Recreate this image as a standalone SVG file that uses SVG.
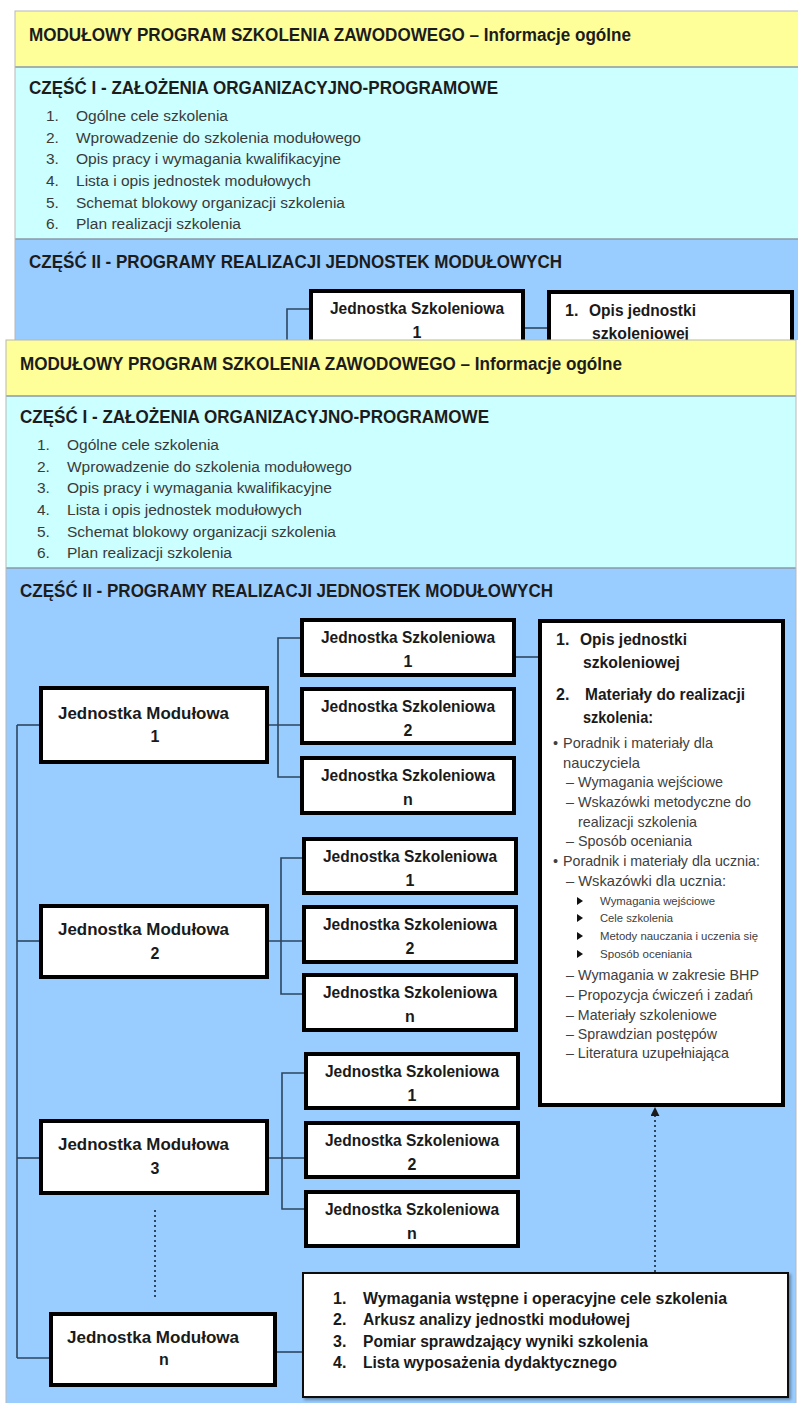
<svg xmlns="http://www.w3.org/2000/svg" xmlns:xlink="http://www.w3.org/1999/xlink" width="798" height="1403" viewBox="0 0 798 1403">
<style>
.h{font-family:"Liberation Sans",Arial,sans-serif;font-weight:bold;font-size:18px;fill:#1c1c1c;}
.li{font-family:"Liberation Sans",Arial,sans-serif;font-size:15.5px;fill:#3a3a3a;}
.bx{fill:#ffffff;stroke:#000;stroke-width:4;}
.bxt{font-family:"Liberation Sans",Arial,sans-serif;font-weight:bold;font-size:16px;fill:#1a1a1a;}
.ob{font-family:"Liberation Sans",Arial,sans-serif;font-weight:bold;font-size:16px;fill:#1a1a1a;}
.os{font-family:"Liberation Sans",Arial,sans-serif;font-size:14.5px;fill:#404040;}
.ot{font-family:"Liberation Sans",Arial,sans-serif;font-size:11px;fill:#404040;}
.c{stroke:#2c4660;stroke-width:1.6;fill:none;}
.d{stroke:#2c4660;stroke-width:2;fill:none;stroke-dasharray:2 3;}
.sep{stroke:#8a9aa8;stroke-width:1.5;}
</style>
<defs>
<clipPath id="clipTop"><rect x="0" y="0" width="798" height="340"/></clipPath>
<marker id="arr" viewBox="0 0 10 10" refX="9" refY="5" markerWidth="9" markerHeight="9" orient="auto" markerUnits="userSpaceOnUse">
<path d="M0,0 L10,5 L0,10 z" fill="#1a1a1a"/>
</marker>
<filter id="sh" x="-5%" y="-5%" width="110%" height="115%"><feDropShadow dx="2" dy="2" stdDeviation="1.5" flood-color="#000" flood-opacity="0.35"/></filter>
</defs>
<rect x="0" y="0" width="798" height="1403" fill="#ffffff"/>

<g id="top-copy" clip-path="url(#clipTop)">
<use xlink:href="#diagram" href="#diagram" transform="translate(9,-329)"/>
</g>

<g id="diagram">
<g id="bands">
<rect x="6" y="340" width="790" height="56" fill="#FFFF99"/>
<rect x="6" y="396" width="790" height="172" fill="#CCFFFF"/>
<rect x="6" y="568" width="790" height="850" fill="#99CCFF"/>
<line class="sep" x1="6" y1="396" x2="796" y2="396"/>
<line class="sep" x1="6" y1="568" x2="796" y2="568"/>
<rect x="6" y="340" width="790" height="1080" fill="none" stroke="#b8b8b8" stroke-width="1"/>
</g>

<g id="headings">
<text class="h" x="20" y="370" textLength="602" lengthAdjust="spacingAndGlyphs">MODUŁOWY PROGRAM SZKOLENIA ZAWODOWEGO – Informacje ogólne</text>
<text class="h" x="20" y="423" textLength="469" lengthAdjust="spacingAndGlyphs">CZĘŚĆ I - ZAŁOŻENIA ORGANIZACYJNO-PROGRAMOWE</text>
<text class="h" x="20" y="597" textLength="533" lengthAdjust="spacingAndGlyphs">CZĘŚĆ II - PROGRAMY REALIZACJI JEDNOSTEK MODUŁOWYCH</text>
</g>

<g id="part1-list">
<text class="li" x="37" y="450">1.</text><text class="li" x="67" y="450" textLength="152" lengthAdjust="spacingAndGlyphs">Ogólne cele szkolenia</text>
<text class="li" x="37" y="472">2.</text><text class="li" x="67" y="472" textLength="285" lengthAdjust="spacingAndGlyphs">Wprowadzenie do szkolenia modułowego</text>
<text class="li" x="37" y="493">3.</text><text class="li" x="67" y="493" textLength="265" lengthAdjust="spacingAndGlyphs">Opis pracy i wymagania kwalifikacyjne</text>
<text class="li" x="37" y="515">4.</text><text class="li" x="67" y="515" textLength="235" lengthAdjust="spacingAndGlyphs">Lista i opis jednostek modułowych</text>
<text class="li" x="37" y="537">5.</text><text class="li" x="67" y="537" textLength="269" lengthAdjust="spacingAndGlyphs">Schemat blokowy organizacji szkolenia</text>
<text class="li" x="37" y="558">6.</text><text class="li" x="67" y="558" textLength="165" lengthAdjust="spacingAndGlyphs">Plan realizacji szkolenia</text>
</g>

<g id="connectors">
<line class="c" x1="17" y1="725" x2="17" y2="1358"/>
<line class="c" x1="17" y1="725" x2="41" y2="725"/>
<line class="c" x1="17" y1="941" x2="41" y2="941"/>
<line class="c" x1="17" y1="1158" x2="41" y2="1158"/>
<line class="c" x1="17" y1="1358" x2="51" y2="1358"/>
<polyline class="c" points="302,638 278,638 278,777 302,777"/>
<line class="c" x1="267" y1="725" x2="302" y2="725"/>
<polyline class="c" points="304,858 281,858 281,994 304,994"/>
<line class="c" x1="267" y1="941" x2="304" y2="941"/>
<polyline class="c" points="306,1073 282,1073 282,1209 306,1209"/>
<line class="c" x1="267" y1="1158" x2="306" y2="1158"/>
<line class="c" x1="514" y1="657" x2="540" y2="657"/>
<line class="c" x1="275" y1="1352" x2="303" y2="1352"/>
<line class="d" x1="155" y1="1210" x2="155" y2="1298"/>
<line class="d" x1="655" y1="1272" x2="655" y2="1108" marker-end="url(#arr)"/>
</g>

<g id="jm1"><rect class="bx" x="41" y="688" width="226" height="74"/>
<text class="bxt" x="58" y="719" textLength="171" lengthAdjust="spacingAndGlyphs">Jednostka Modułowa</text><text class="bxt" x="155" y="742" text-anchor="middle">1</text></g>
<g id="jm2"><rect class="bx" x="41" y="906" width="226" height="71"/>
<text class="bxt" x="58" y="935" textLength="171" lengthAdjust="spacingAndGlyphs">Jednostka Modułowa</text><text class="bxt" x="155" y="959" text-anchor="middle">2</text></g>
<g id="jm3"><rect class="bx" x="41" y="1121" width="226" height="72"/>
<text class="bxt" x="58" y="1150" textLength="171" lengthAdjust="spacingAndGlyphs">Jednostka Modułowa</text><text class="bxt" x="155" y="1174" text-anchor="middle">3</text></g>
<g id="jmn"><rect class="bx" x="51" y="1314" width="224" height="71"/>
<text class="bxt" x="67" y="1343" textLength="172" lengthAdjust="spacingAndGlyphs">Jednostka Modułowa</text><text class="bxt" x="164" y="1365" text-anchor="middle">n</text></g>

<g id="js1-1"><rect class="bx" x="302" y="620" width="212" height="55"/>
<text class="bxt" x="408" y="643" text-anchor="middle" textLength="174" lengthAdjust="spacingAndGlyphs">Jednostka Szkoleniowa</text><text class="bxt" x="408" y="667" text-anchor="middle">1</text></g>
<g id="js1-2"><rect class="bx" x="302" y="689" width="212" height="54"/>
<text class="bxt" x="408" y="712" text-anchor="middle" textLength="174" lengthAdjust="spacingAndGlyphs">Jednostka Szkoleniowa</text><text class="bxt" x="408" y="736" text-anchor="middle">2</text></g>
<g id="js1-n"><rect class="bx" x="302" y="758" width="212" height="55"/>
<text class="bxt" x="408" y="781" text-anchor="middle" textLength="174" lengthAdjust="spacingAndGlyphs">Jednostka Szkoleniowa</text><text class="bxt" x="408" y="805" text-anchor="middle">n</text></g>

<g id="js2-1"><rect class="bx" x="304" y="839" width="212" height="54"/>
<text class="bxt" x="410" y="862" text-anchor="middle" textLength="174" lengthAdjust="spacingAndGlyphs">Jednostka Szkoleniowa</text><text class="bxt" x="410" y="886" text-anchor="middle">1</text></g>
<g id="js2-2"><rect class="bx" x="304" y="907" width="212" height="55"/>
<text class="bxt" x="410" y="930" text-anchor="middle" textLength="174" lengthAdjust="spacingAndGlyphs">Jednostka Szkoleniowa</text><text class="bxt" x="410" y="954" text-anchor="middle">2</text></g>
<g id="js2-n"><rect class="bx" x="304" y="975" width="212" height="55"/>
<text class="bxt" x="410" y="998" text-anchor="middle" textLength="174" lengthAdjust="spacingAndGlyphs">Jednostka Szkoleniowa</text><text class="bxt" x="410" y="1022" text-anchor="middle">n</text></g>

<g id="js3-1"><rect class="bx" x="306" y="1054" width="212" height="54"/>
<text class="bxt" x="412" y="1077" text-anchor="middle" textLength="174" lengthAdjust="spacingAndGlyphs">Jednostka Szkoleniowa</text><text class="bxt" x="412" y="1101" text-anchor="middle">1</text></g>
<g id="js3-2"><rect class="bx" x="306" y="1123" width="212" height="54"/>
<text class="bxt" x="412" y="1146" text-anchor="middle" textLength="174" lengthAdjust="spacingAndGlyphs">Jednostka Szkoleniowa</text><text class="bxt" x="412" y="1170" text-anchor="middle">2</text></g>
<g id="js3-n"><rect class="bx" x="306" y="1192" width="212" height="54"/>
<text class="bxt" x="412" y="1215" text-anchor="middle" textLength="174" lengthAdjust="spacingAndGlyphs">Jednostka Szkoleniowa</text><text class="bxt" x="412" y="1239" text-anchor="middle">n</text></g>

<g id="opis">
<rect class="bx" x="540" y="621" width="243" height="484"/>
<text class="ob" x="556" y="645">1.</text><text class="ob" x="580" y="645" textLength="107" lengthAdjust="spacingAndGlyphs">Opis jednostki</text>
<text class="ob" x="583" y="668" textLength="97" lengthAdjust="spacingAndGlyphs">szkoleniowej</text>
<text class="ob" x="556" y="700">2.</text><text class="ob" x="585" y="700" textLength="160" lengthAdjust="spacingAndGlyphs">Materiały do realizacji</text>
<text class="ob" x="583" y="723" textLength="70" lengthAdjust="spacingAndGlyphs">szkolenia:</text>
<text class="os" x="553" y="748">•</text><text class="os" x="563" y="748" textLength="150" lengthAdjust="spacingAndGlyphs">Poradnik i materiały dla</text>
<text class="os" x="563" y="768" textLength="77" lengthAdjust="spacingAndGlyphs">nauczyciela</text>
<text class="os" x="566" y="787" textLength="157" lengthAdjust="spacingAndGlyphs">– Wymagania wejściowe</text>
<text class="os" x="566" y="807" textLength="185" lengthAdjust="spacingAndGlyphs">– Wskazówki metodyczne do</text>
<text class="os" x="578" y="827" textLength="119" lengthAdjust="spacingAndGlyphs">realizacji szkolenia</text>
<text class="os" x="566" y="846" textLength="126" lengthAdjust="spacingAndGlyphs">– Sposób oceniania</text>
<text class="os" x="553" y="866">•</text><text class="os" x="563" y="866" textLength="197" lengthAdjust="spacingAndGlyphs">Poradnik i materiały dla ucznia:</text>
<text class="os" x="566" y="886" textLength="160" lengthAdjust="spacingAndGlyphs">– Wskazówki dla ucznia:</text>
<path d="M577,897 L583,901 L577,905 z" fill="#111"/>
<text class="ot" x="600" y="905" textLength="115" lengthAdjust="spacingAndGlyphs">Wymagania wejściowe</text>
<path d="M577,914 L583,918 L577,922 z" fill="#111"/>
<text class="ot" x="600" y="922" textLength="73" lengthAdjust="spacingAndGlyphs">Cele szkolenia</text>
<path d="M577,932 L583,936 L577,940 z" fill="#111"/>
<text class="ot" x="600" y="940" textLength="158" lengthAdjust="spacingAndGlyphs">Metody nauczania i uczenia się</text>
<path d="M577,950 L583,954 L577,958 z" fill="#111"/>
<text class="ot" x="600" y="958" textLength="92" lengthAdjust="spacingAndGlyphs">Sposób oceniania</text>
<text class="os" x="566" y="980" textLength="193" lengthAdjust="spacingAndGlyphs">– Wymagania w zakresie BHP</text>
<text class="os" x="566" y="1000" textLength="187" lengthAdjust="spacingAndGlyphs">– Propozycja ćwiczeń i zadań</text>
<text class="os" x="566" y="1020" textLength="151" lengthAdjust="spacingAndGlyphs">– Materiały szkoleniowe</text>
<text class="os" x="566" y="1039" textLength="151" lengthAdjust="spacingAndGlyphs">– Sprawdzian postępów</text>
<text class="os" x="566" y="1058" textLength="163" lengthAdjust="spacingAndGlyphs">– Literatura uzupełniająca</text>
</g>

<g id="bottom-box">
<rect x="303" y="1273" width="485" height="124" fill="#ffffff" stroke="#111" stroke-width="2" filter="url(#sh)"/>
<text class="ob" x="333" y="1304">1.</text><text class="ob" x="363" y="1304" textLength="364" lengthAdjust="spacingAndGlyphs">Wymagania wstępne i operacyjne cele szkolenia</text>
<text class="ob" x="333" y="1325">2.</text><text class="ob" x="363" y="1325" textLength="267" lengthAdjust="spacingAndGlyphs">Arkusz analizy jednostki modułowej</text>
<text class="ob" x="333" y="1347">3.</text><text class="ob" x="363" y="1347" textLength="285" lengthAdjust="spacingAndGlyphs">Pomiar sprawdzający wyniki szkolenia</text>
<text class="ob" x="333" y="1368">4.</text><text class="ob" x="363" y="1368" textLength="254" lengthAdjust="spacingAndGlyphs">Lista wyposażenia dydaktycznego</text>
</g>
</g>
</svg>
